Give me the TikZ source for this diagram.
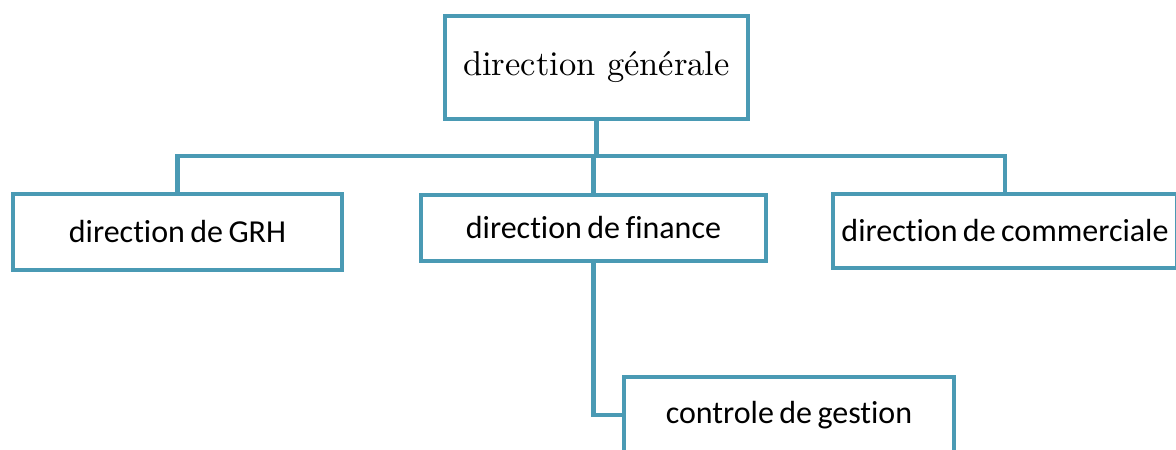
\documentclass[tikz,border=0pt]{standalone}
\usepackage{fontspec}
\newfontfamily\carlito{Carlito}[Ligatures=NoCommon, WordSpace=0.75]
\newfontfamily\lmten{lmroman10-regular.otf}
\usepackage{tikz}
\usetikzlibrary{positioning}
\definecolor{orgblue}{RGB}{74,154,180}

\begin{document}
\begin{tikzpicture}[x=1pt, y=-1pt,
    unitbox/.style={draw=orgblue, line width=4.5pt, fill=white, inner sep=0pt,
        font=\carlito\fontsize{32}{36}\selectfont},
    link/.style={draw=orgblue, line width=4.5pt}]
    \clip (0,0) rectangle (1176,450);

    % Top box
    \node[unitbox, minimum width=303pt, minimum height=103pt,
        font=\lmten\fontsize{34.5}{40}\selectfont] (gen) at (596.5,67.5) {direction générale};

    % Second level
    \node[unitbox, minimum width=329pt, minimum height=76pt] (grh) at (177.5,232) {direction de GRH};
    \node[unitbox, minimum width=345pt, minimum height=66pt] (fin) at (593.5,228) {direction de finance};
    \node[unitbox, minimum width=344pt, minimum height=74pt] (com) at (1005,231) {direction de commerciale};

    % Third level
    \node[unitbox, minimum width=330pt, minimum height=76pt] (ctl) at (789,415) {controle de gestion};

    % Connectors
    \coordinate (bus) at (596.5,156);
    \draw[link] (gen.south) -- (bus);
    \draw[link] (grh.north) |- (bus) -| (com.north);
    \draw[link] (fin.north) |- (bus);
    \draw[link] (fin.south) |- (ctl.west);
\end{tikzpicture}
\end{document}
